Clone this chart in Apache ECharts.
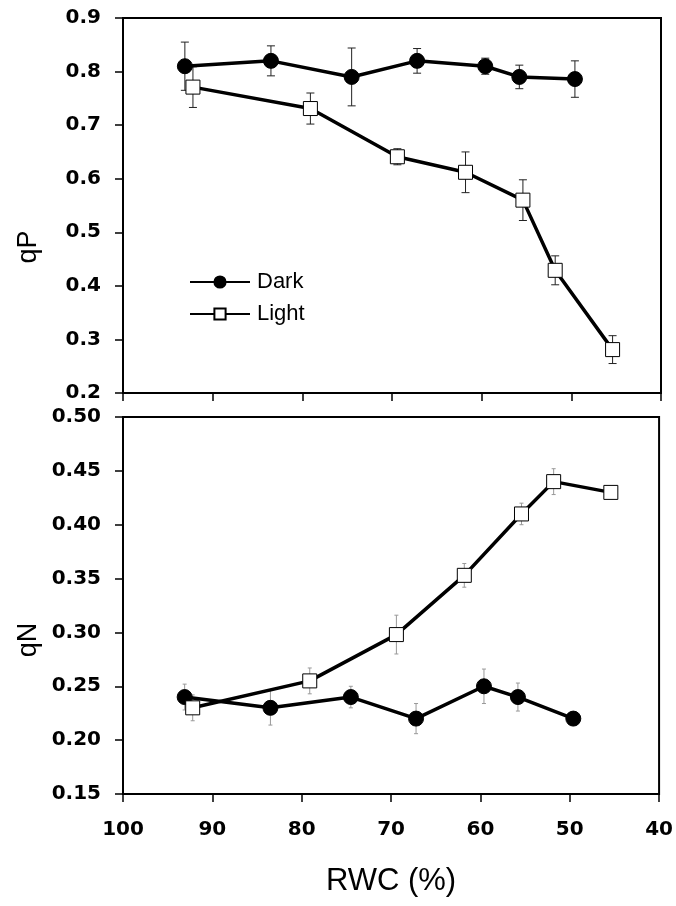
<!DOCTYPE html>
<html>
<head>
<meta charset="utf-8">
<script src="https://cdn.jsdelivr.net/npm/echarts@6/dist/echarts.min.js"></script>
<style>html,body{margin:0;padding:0;background:#fff}#c{width:676px;height:906px}</style>
</head>
<body>
<div id="c"></div>
<script>
// ---- data ----
const darkX = [93.1, 83.5, 74.5, 67.2, 59.6, 55.8, 49.6];
const lightX = [92.2, 79.1, 69.4, 61.8, 55.4, 51.8, 45.4];
const qpDark = [0.810, 0.820, 0.790, 0.820, 0.810, 0.790, 0.786];
const qpDarkErr = [0.045, 0.028, 0.054, 0.023, 0.015, 0.022, 0.034];
const qpLight = [0.771, 0.731, 0.641, 0.612, 0.560, 0.429, 0.281];
const qpLightErr = [0.038, 0.029, 0.015, 0.038, 0.038, 0.027, 0.026];
const qnDark = [0.240, 0.230, 0.240, 0.220, 0.250, 0.240, 0.220];
const qnDarkErr = [0.012, 0.016, 0.010, 0.014, 0.016, 0.013, 0.006];
const qnLight = [0.230, 0.255, 0.298, 0.353, 0.410, 0.440, 0.430];
const qnLightErr = [0.012, 0.012, 0.018, 0.011, 0.010, 0.012, 0.005];
const xTicks = [100, 90, 80, 70, 60, 50, 40];

const pair = (xs, ys) => xs.map((x, i) => [x, ys[i]]);
const trip = (xs, ys, es) => xs.map((x, i) => [x, ys[i], es[i]]);

const FONT = 'DejaVu Sans';
const LBL = 'Liberation Sans';

function errSeries(idx, data, color, capW) {
  return {
    type: 'custom', xAxisIndex: idx, yAxisIndex: idx, z: 1, silent: true,
    data: data,
    renderItem: function (params, api) {
      const x = api.value(0), y = api.value(1), e = api.value(2);
      const t = api.coord([x, y + e]), b = api.coord([x, y - e]);
      const st = { stroke: color, lineWidth: 1 };
      return { type: 'group', children: [
        { type: 'line', shape: { x1: t[0], y1: t[1], x2: b[0], y2: b[1] }, style: st },
        { type: 'line', shape: { x1: t[0] - capW, y1: t[1], x2: t[0] + capW, y2: t[1] }, style: st },
        { type: 'line', shape: { x1: b[0] - capW, y1: b[1], x2: b[0] + capW, y2: b[1] }, style: st }
      ]};
    }
  };
}

function xAx(idx, showLabels) {
  return {
    type: 'value', gridIndex: idx, min: 40, max: 100, interval: 10, inverse: true,
    axisLine: { show: true, lineStyle: { color: '#000', width: 2 } },
    axisTick: { show: true, inside: false, length: 8, lineStyle: { color: '#000', width: 1.5 } },
    axisLabel: { show: showLabels, margin: 26, fontFamily: FONT, fontWeight: 'bold', fontSize: 20, color: '#000' },
    splitLine: { show: false },
    name: showLabels ? 'RWC (%)' : '', nameLocation: 'middle', nameGap: 72,
    nameTextStyle: { fontFamily: LBL, fontSize: 31, color: '#000' }
  };
}
function yAx(idx, min, max, interval, dec) {
  return {
    type: 'value', gridIndex: idx, min: min, max: max, interval: interval,
    axisLine: { show: true, lineStyle: { color: '#000', width: 2 } },
    axisTick: { show: true, inside: false, length: 8, lineStyle: { color: '#000', width: 1.5 } },
    axisLabel: { margin: 22, fontFamily: FONT, fontWeight: 'bold', fontSize: 20, color: '#000',
      formatter: v => v.toFixed(dec) },
    splitLine: { show: false }
  };
}

const lineStyle = { color: '#000', width: 3.5 };
const darkItem = { color: '#000', borderColor: '#000', borderWidth: 1 };
const lightItem = { color: '#fff', borderColor: '#000', borderWidth: 1 };

const chart = echarts.init(document.getElementById('c'), null, { renderer: 'canvas' });
chart.setOption({
  animation: false,
  backgroundColor: '#fff',
  grid: [
    { left: 123, top: 18, width: 538, height: 375, show: true, borderColor: '#000', borderWidth: 2, backgroundColor: 'transparent' },
    { left: 123, top: 417, width: 538, height: 377, show: true, borderColor: '#000', borderWidth: 2, backgroundColor: 'transparent' }
  ],
  xAxis: [xAx(0, false), xAx(1, true)],
  yAxis: [yAx(0, 0.2, 0.9, 0.1, 1), yAx(1, 0.15, 0.50, 0.05, 2)],
  legend: {
    left: 184, top: 266, orient: 'vertical', itemWidth: 60, itemHeight: 14, itemGap: 10,
    lineStyle: { width: 2 },
    textStyle: { fontFamily: LBL, fontSize: 22, color: '#000', padding: [0, 0, 0, 2] },
    data: ['Dark', 'Light']
  },
  graphic: [
    { type: 'text', x: 29, y: 247, rotation: Math.PI / 2,
      style: { text: 'qP', font: '27px "Liberation Sans"', fill: '#000', align: 'center', verticalAlign: 'middle' } },
    { type: 'text', x: 29, y: 640, rotation: Math.PI / 2,
      style: { text: 'qN', font: '27px "Liberation Sans"', fill: '#000', align: 'center', verticalAlign: 'middle' } }
  ],
  series: [
    errSeries(0, trip(darkX, qpDark, qpDarkErr), '#222', 4),
    errSeries(0, trip(lightX, qpLight, qpLightErr), '#222', 4),
    errSeries(1, trip(darkX, qnDark, qnDarkErr), '#999', 2),
    errSeries(1, trip(lightX, qnLight, qnLightErr), '#999', 2),
    { name: 'Dark', type: 'line', xAxisIndex: 0, yAxisIndex: 0, z: 3, data: pair(darkX, qpDark),
      symbol: 'circle', symbolSize: 15, lineStyle: lineStyle, itemStyle: darkItem },
    { name: 'Light', type: 'line', xAxisIndex: 0, yAxisIndex: 0, z: 3, data: pair(lightX, qpLight),
      symbol: 'rect', symbolSize: 14, lineStyle: lineStyle, itemStyle: lightItem },
    { name: 'Dark', type: 'line', xAxisIndex: 1, yAxisIndex: 1, z: 3, data: pair(darkX, qnDark),
      symbol: 'circle', symbolSize: 15, lineStyle: lineStyle, itemStyle: darkItem },
    { name: 'Light', type: 'line', xAxisIndex: 1, yAxisIndex: 1, z: 3, data: pair(lightX, qnLight),
      symbol: 'rect', symbolSize: 14, lineStyle: lineStyle, itemStyle: lightItem }
  ]
});
</script>
</body>
</html>
